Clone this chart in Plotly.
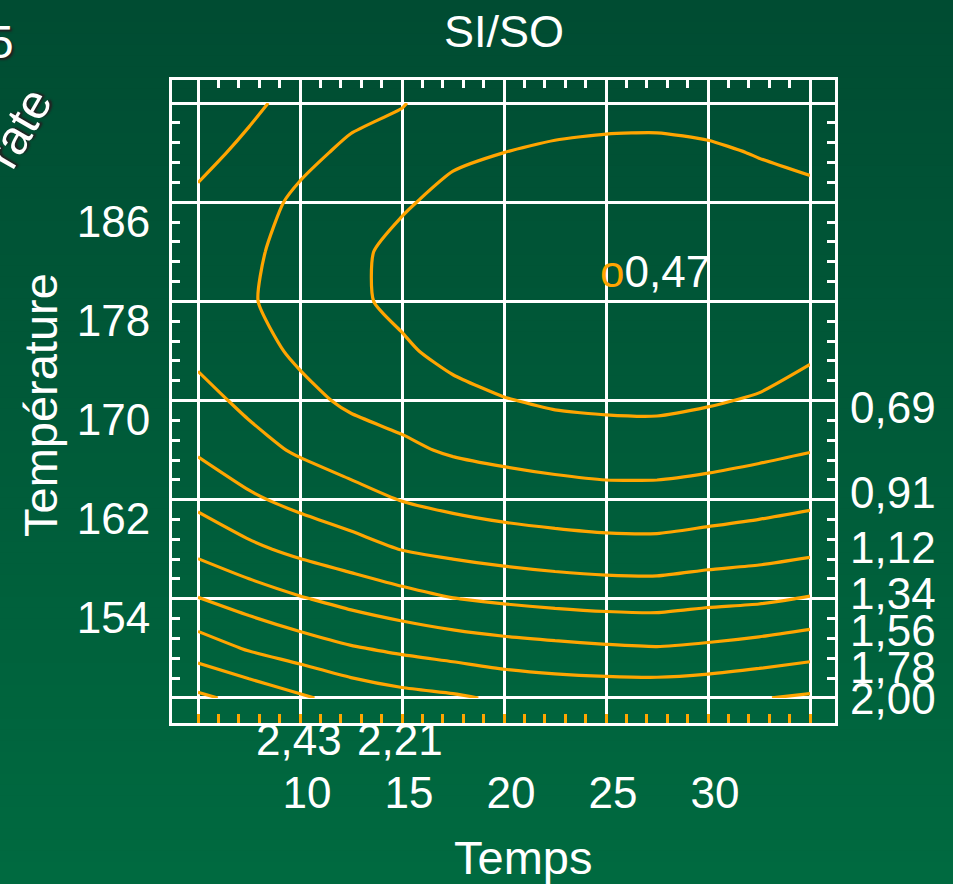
import plotly.graph_objects as go

# ---------------- data ----------------
temps = [5, 7.5, 10, 12.5, 15, 17.5, 20, 22.5, 25, 27.5, 30, 32.5, 35]
temperature = [146, 150, 154, 158, 162, 166, 170, 174, 178, 182, 186, 190, 194]
# SI/SO response, one row per temperature (ascending), one value per temps
si_so = [
    [2.70, 2.59, 2.47, 2.36, 2.29, 2.25, 2.19, 2.16, 2.15, 2.15, 2.17, 2.21, 2.25],
    [2.33, 2.20, 2.105, 2.02, 1.96, 1.91, 1.865, 1.835, 1.81, 1.795, 1.82, 1.86, 1.91],
    [2.01, 1.90, 1.80, 1.715, 1.64, 1.57, 1.53, 1.50, 1.48, 1.475, 1.51, 1.53, 1.58],
    [1.73, 1.61, 1.51, 1.43, 1.34, 1.29, 1.25, 1.22, 1.20, 1.195, 1.23, 1.26, 1.30],
    [1.51, 1.38, 1.285, 1.20, 1.12, 1.065, 1.025, 1.00, 0.98, 0.98, 1.005, 1.04, 1.08],
    [1.32, 1.20, 1.10, 1.02, 0.945, 0.885, 0.85, 0.82, 0.80, 0.80, 0.825, 0.86, 0.90],
    [1.195, 1.08, 0.97, 0.87, 0.83, 0.755, 0.70, 0.66, 0.645, 0.64, 0.67, 0.71, 0.77],
    [1.08, 0.99, 0.87, 0.77, 0.72, 0.63, 0.56, 0.54, 0.52, 0.515, 0.535, 0.58, 0.66],
    [1.01, 0.93, 0.81, 0.73, 0.64, 0.555, 0.51, 0.49, 0.475, 0.47, 0.49, 0.525, 0.59],
    [1.02, 0.95, 0.82, 0.73, 0.64, 0.56, 0.52, 0.50, 0.48, 0.475, 0.495, 0.53, 0.59],
    [1.08, 0.99, 0.87, 0.78, 0.71, 0.64, 0.60, 0.57, 0.55, 0.545, 0.565, 0.61, 0.655],
    [1.20, 1.07, 0.96, 0.87, 0.81, 0.72, 0.69, 0.66, 0.645, 0.64, 0.66, 0.70, 0.72],
    [1.30, 1.18, 1.04, 0.97, 0.92, 0.80, 0.79, 0.78, 0.765, 0.765, 0.78, 0.80, 0.83],
]
level_start, level_end, level_step = 0.69, 2.66, 0.2186

min_temps, min_temperature, min_label = 25.2, 180.4, "0,47"

x_tick_vals = [5, 10, 15, 20, 25, 30, 35]
x_tick_text = ["", "10", "15", "20", "25", "30", ""]
y_tick_vals = [146, 154, 162, 170, 178, 186, 194]
y_tick_text = ["", "154", "162", "170", "178", "186", ""]

right_labels = ["0,69", "0,91", "1,12", "1,34", "1,56", "1,78", "2,00"]
bottom_labels = ["2,43", "2,21"]

# ---------------- layout helpers (pixel -> paper) ----------------
W, H = 962, 884
L, R, T, B = 172, 835, 80, 723
def px(xp):
    return (xp - L) / (R - L)
def py(yp):
    return (B - yp) / (B - T)

right_label_ypix = [407, 492, 547, 593, 630, 667, 698]
bottom_label_xpix = [299, 400]

FONT = "Liberation Sans, Arial, sans-serif"
ORANGE = "#FFA500"
X_RANGE = [3.725, 36.225]
Y_RANGE = [143.98, 195.86]

fig = go.Figure()
fig.add_trace(go.Contour(
    x=temps, y=temperature, z=si_so,
    contours=dict(start=level_start, end=level_end, size=level_step, coloring="none"),
    line=dict(color=ORANGE, width=3.2, smoothing=0.6),
    showscale=False, hoverinfo="skip",
))
# helper empty trace so the mirrored tick axes exist
fig.add_trace(go.Scatter(x=[None], y=[None], xaxis="x2", yaxis="y2", showlegend=False, hoverinfo="skip"))

# background gradient
shapes = []
N = 80
top_c = (0, 76, 50)
bot_c = (0, 106, 64)
for i in range(N):
    t = i / (N - 1)
    c = tuple(round(top_c[k] + (bot_c[k] - top_c[k]) * t) for k in range(3))
    y0p = i * H / N
    y1p = (i + 1) * H / N + 1
    shapes.append(dict(type="rect", xref="paper", yref="paper", layer="below",
                       x0=px(-2), x1=px(W + 2), y0=py(y1p), y1=py(y0p),
                       fillcolor="rgb(%d,%d,%d)" % c, line=dict(width=0)))
shapes.append(dict(type="rect", xref="paper", yref="paper", layer="below",
                   x0=px(953), x1=px(W + 5), y0=py(H + 5), y1=py(-5),
                   fillcolor="white", line=dict(width=0)))

annotations = []
for txt, yp in zip(right_labels, right_label_ypix):
    annotations.append(dict(text=txt, xref="paper", yref="paper", x=px(848), y=py(yp),
                            xanchor="left", yanchor="middle", showarrow=False,
                            font=dict(family=FONT, size=44, color="white")))
for txt, xp in zip(bottom_labels, bottom_label_xpix):
    annotations.append(dict(text=txt, xref="paper", yref="paper", x=px(xp), y=py(739),
                            xanchor="center", yanchor="middle", showarrow=False,
                            font=dict(family=FONT, size=44, color="white")))
annotations.append(dict(text='<span style="color:%s">o</span>%s' % (ORANGE, min_label),
                        xref="x", yref="y", x=min_temps, y=min_temperature,
                        xanchor="left", yanchor="middle", xshift=-12, showarrow=False,
                        font=dict(family=FONT, size=44, color="white")))
annotations.append(dict(text="Temps", xref="paper", yref="paper", x=px(523), y=py(857),
                        xanchor="center", yanchor="middle", showarrow=False,
                        font=dict(family=FONT, size=47, color="white")))
annotations.append(dict(text="Température", xref="paper", yref="paper", x=px(40), y=py(405),
                        xanchor="center", yanchor="middle", textangle=-90, showarrow=False,
                        font=dict(family=FONT, size=47, color="white")))
# clipped fragments at top-left
annotations.append(dict(text="5", xref="paper", yref="paper", x=px(1), y=py(42),
                        xanchor="center", yanchor="middle", showarrow=False,
                        font=dict(family=FONT, size=46, color="white", shadow="2px 2px 2px #222")))
annotations.append(dict(text="rate", xref="paper", yref="paper", x=px(18), y=py(128),
                        xanchor="center", yanchor="middle", textangle=-60, showarrow=False,
                        font=dict(family=FONT, size=48, color="white", shadow="2px 2px 2px #222")))

fig.update_layout(
    width=W, height=H,
    margin=dict(l=L, r=W - R, t=T, b=H - B),
    paper_bgcolor="rgb(0,76,50)", plot_bgcolor="rgba(0,0,0,0)",
    showlegend=False,
    title=dict(text="SI/SO", x=px(504), xref="paper", xanchor="center",
               y=1 - 31 / H, yref="container", yanchor="middle",
               font=dict(family=FONT, size=45, color="white")),
    shapes=shapes, annotations=annotations,
    xaxis=dict(range=X_RANGE, tickmode="array", tickvals=x_tick_vals, ticktext=x_tick_text,
               showgrid=True, gridcolor="white", gridwidth=3, zeroline=False,
               showline=True, linecolor="white", linewidth=3, mirror=True,
               ticks="inside", ticklen=9, tickwidth=2.5, tickcolor=ORANGE,
               minor=dict(tickmode="array", tickvals=list(range(5, 36)), ticks="inside",
                          ticklen=9, tickwidth=2.5, tickcolor=ORANGE, showgrid=False),
               tickfont=dict(family=FONT, size=44, color="white"),
               ticklabelstandoff=29, ticklabelshift=7, fixedrange=True),
    yaxis=dict(range=Y_RANGE, tickmode="array", tickvals=y_tick_vals, ticktext=y_tick_text,
               showgrid=True, gridcolor="white", gridwidth=3, zeroline=False,
               showline=True, linecolor="white", linewidth=3, mirror=True,
               ticks="inside", ticklen=8, tickwidth=2.5, tickcolor="white",
               minor=dict(tickmode="array", tickvals=[146 + 1.6 * k for k in range(31)],
                          ticks="inside", ticklen=8, tickwidth=2.5, tickcolor="white", showgrid=False),
               tickfont=dict(family=FONT, size=44, color="white"),
               ticklabelstandoff=10, ticklabelshift=19, fixedrange=True),
    xaxis2=dict(range=X_RANGE, overlaying="x", side="top", anchor="y2",
                tickmode="array", tickvals=list(range(5, 36)), showticklabels=False,
                ticks="inside", ticklen=8, tickwidth=2.5, tickcolor="white",
                showgrid=False, zeroline=False, showline=False, fixedrange=True),
    yaxis2=dict(range=Y_RANGE, overlaying="y", side="right", anchor="x2",
                tickmode="array", tickvals=[146 + 1.6 * k for k in range(31)], showticklabels=False,
                ticks="inside", ticklen=8, tickwidth=2.5, tickcolor="white",
                showgrid=False, zeroline=False, showline=False, fixedrange=True),
)

fig.write_html("out.html", config={"displayModeBar": False},
               post_script="document.body.style.margin='0';document.body.style.overflow='hidden';")
